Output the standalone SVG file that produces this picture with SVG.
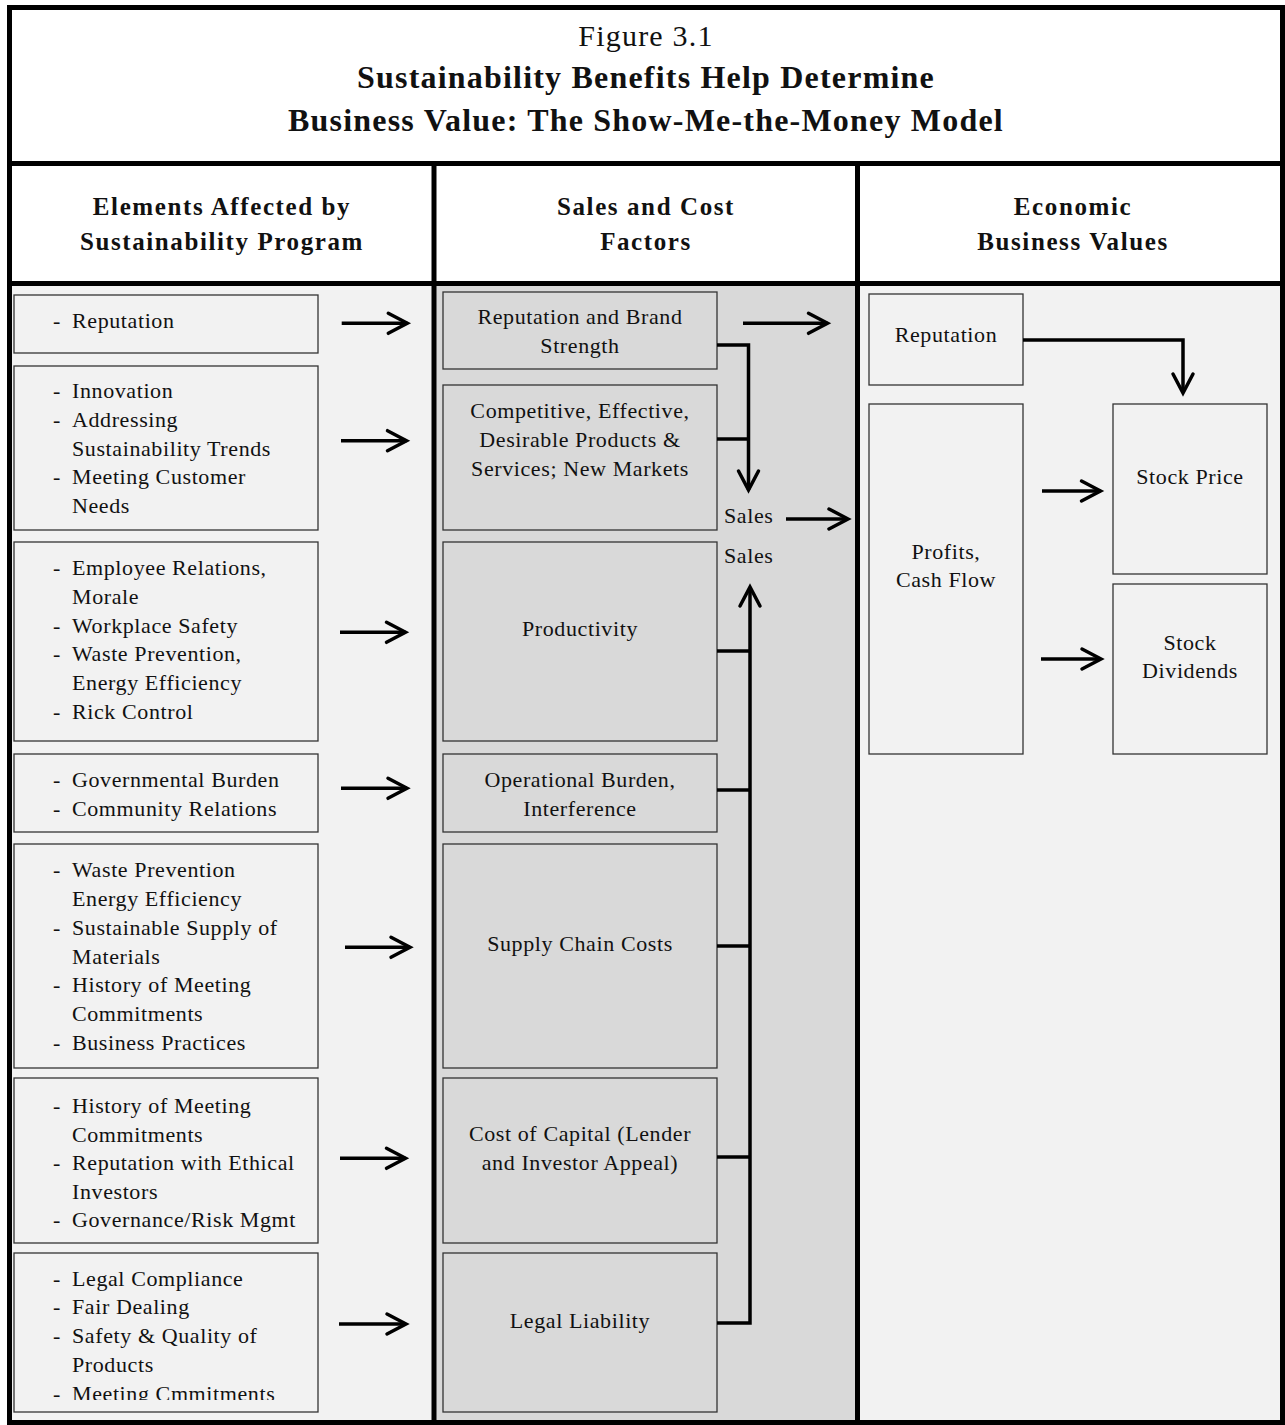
<svg xmlns="http://www.w3.org/2000/svg" width="1285" height="1425" viewBox="0 0 1285 1425">
<style>
.t{font-family:"Liberation Serif","Times New Roman",serif;font-size:22px;letter-spacing:0.6px;fill:#111}
.c{text-anchor:middle}
.h{font-family:"Liberation Serif","Times New Roman",serif;font-size:25px;font-weight:bold;letter-spacing:1.6px;fill:#111;text-anchor:middle}
.ti{font-family:"Liberation Serif","Times New Roman",serif;font-size:32px;font-weight:bold;letter-spacing:1.2px;fill:#111;text-anchor:middle}
.tr{font-family:"Liberation Serif","Times New Roman",serif;font-size:30px;letter-spacing:1.2px;fill:#111;text-anchor:middle}
.lb{fill:#f2f2f2;stroke:#333;stroke-width:1.3}
.mb{fill:#d9d9d9;stroke:#333;stroke-width:1.3}
.rb{fill:#f2f2f2;stroke:#333;stroke-width:1.3}
.frame{fill:none;stroke:#000;stroke-width:5}
.conn path{fill:none;stroke:#000;stroke-width:3.5;stroke-linejoin:miter}
</style>
<defs>
<marker id="ah" viewBox="0 0 22 22" refX="20" refY="11" markerWidth="22" markerHeight="22" markerUnits="userSpaceOnUse" orient="auto" style="overflow:visible">
<path d="M1,1 L20,11 L1,21" fill="none" stroke="#000" stroke-width="3.5" stroke-linejoin="miter" stroke-linecap="round"/>
</marker>
<clipPath id="clip7"><rect x="14" y="1253" width="304" height="147"/></clipPath>
</defs>

<g id="background">
<rect x="0" y="0" width="1285" height="1425" fill="#ffffff"/>
<rect x="12" y="286" width="420" height="1134" fill="#f2f2f2"/>
<rect x="436" y="286" width="420" height="1134" fill="#d9d9d9"/>
<rect x="860" y="286" width="421" height="1134" fill="#f2f2f2"/>
</g>

<g id="frame">
<rect class="frame" x="9.5" y="7.5" width="1273" height="1415"/>
<line class="frame" x1="7" y1="163.5" x2="1285" y2="163.5"/>
<line class="frame" x1="7" y1="283.5" x2="1285" y2="283.5"/>
<line class="frame" x1="434" y1="163" x2="434" y2="1425"/>
<line class="frame" x1="857.5" y1="163" x2="857.5" y2="1425"/>
</g>

<g id="title">
<text class="tr" x="646" y="46">Figure 3.1</text>
<text class="ti" x="646" y="88">Sustainability Benefits Help Determine</text>
<text class="ti" x="646" y="131">Business Value: The Show-Me-the-Money Model</text>
</g>

<g id="header-left">
<text class="h" x="222" y="215">Elements Affected by</text>
<text class="h" x="222" y="250">Sustainability Program</text>
</g>
<g id="header-middle">
<text class="h" x="646" y="215">Sales and Cost</text>
<text class="h" x="646" y="250">Factors</text>
</g>
<g id="header-right">
<text class="h" x="1073" y="215">Economic</text>
<text class="h" x="1073" y="250">Business Values</text>
</g>

<g id="left-1">
<rect class="lb" x="14" y="295" width="304" height="58"/>
<text class="t" x="53" y="328">-</text><text class="t" x="72" y="328">Reputation</text>
</g>
<g id="left-2">
<rect class="lb" x="14" y="366" width="304" height="164"/>
<text class="t" x="53" y="398">-</text><text class="t" x="72" y="398">Innovation</text>
<text class="t" x="53" y="427">-</text><text class="t" x="72" y="427">Addressing</text>
<text class="t" x="72" y="456">Sustainability Trends</text>
<text class="t" x="53" y="484">-</text><text class="t" x="72" y="484">Meeting Customer</text>
<text class="t" x="72" y="513">Needs</text>
</g>
<g id="left-3">
<rect class="lb" x="14" y="542" width="304" height="199"/>
<text class="t" x="53" y="575">-</text><text class="t" x="72" y="575">Employee Relations,</text>
<text class="t" x="72" y="604">Morale</text>
<text class="t" x="53" y="633">-</text><text class="t" x="72" y="633">Workplace Safety</text>
<text class="t" x="53" y="661">-</text><text class="t" x="72" y="661">Waste Prevention,</text>
<text class="t" x="72" y="690">Energy Efficiency</text>
<text class="t" x="53" y="719">-</text><text class="t" x="72" y="719">Rick Control</text>
</g>
<g id="left-4">
<rect class="lb" x="14" y="754" width="304" height="78"/>
<text class="t" x="53" y="787">-</text><text class="t" x="72" y="787">Governmental Burden</text>
<text class="t" x="53" y="816">-</text><text class="t" x="72" y="816">Community Relations</text>
</g>
<g id="left-5">
<rect class="lb" x="14" y="844" width="304" height="224"/>
<text class="t" x="53" y="877">-</text><text class="t" x="72" y="877">Waste Prevention</text>
<text class="t" x="72" y="906">Energy Efficiency</text>
<text class="t" x="53" y="935">-</text><text class="t" x="72" y="935">Sustainable Supply of</text>
<text class="t" x="72" y="964">Materials</text>
<text class="t" x="53" y="992">-</text><text class="t" x="72" y="992">History of Meeting</text>
<text class="t" x="72" y="1021">Commitments</text>
<text class="t" x="53" y="1050">-</text><text class="t" x="72" y="1050">Business Practices</text>
</g>
<g id="left-6">
<rect class="lb" x="14" y="1078" width="304" height="165"/>
<text class="t" x="53" y="1113">-</text><text class="t" x="72" y="1113">History of Meeting</text>
<text class="t" x="72" y="1142">Commitments</text>
<text class="t" x="53" y="1170">-</text><text class="t" x="72" y="1170">Reputation with Ethical</text>
<text class="t" x="72" y="1199">Investors</text>
<text class="t" x="53" y="1227">-</text><text class="t" x="72" y="1227">Governance/Risk Mgmt</text>
</g>
<g id="left-7">
<rect class="lb" x="14" y="1253" width="304" height="159"/>
<g clip-path="url(#clip7)">
<text class="t" x="53" y="1286">-</text><text class="t" x="72" y="1286">Legal Compliance</text>
<text class="t" x="53" y="1314">-</text><text class="t" x="72" y="1314">Fair Dealing</text>
<text class="t" x="53" y="1343">-</text><text class="t" x="72" y="1343">Safety &amp; Quality of</text>
<text class="t" x="72" y="1372">Products</text>
<text class="t" x="53" y="1401">-</text><text class="t" x="72" y="1401">Meeting Cmmitments</text>
</g>
</g>

<g id="mid-1">
<rect class="mb" x="443" y="292" width="274" height="77"/>
<text class="t c" x="580" y="324">Reputation and Brand</text>
<text class="t c" x="580" y="353">Strength</text>
</g>
<g id="mid-2">
<rect class="mb" x="443" y="385" width="274" height="145"/>
<text class="t c" x="580" y="418">Competitive, Effective,</text>
<text class="t c" x="580" y="447">Desirable Products &amp;</text>
<text class="t c" x="580" y="476">Services; New Markets</text>
</g>
<g id="mid-3">
<rect class="mb" x="443" y="542" width="274" height="199"/>
<text class="t c" x="580" y="636">Productivity</text>
</g>
<g id="mid-4">
<rect class="mb" x="443" y="754" width="274" height="78"/>
<text class="t c" x="580" y="787">Operational Burden,</text>
<text class="t c" x="580" y="816">Interference</text>
</g>
<g id="mid-5">
<rect class="mb" x="443" y="844" width="274" height="224"/>
<text class="t c" x="580" y="951">Supply Chain Costs</text>
</g>
<g id="mid-6">
<rect class="mb" x="443" y="1078" width="274" height="165"/>
<text class="t c" x="580" y="1141">Cost of Capital (Lender</text>
<text class="t c" x="580" y="1170">and Investor Appeal)</text>
</g>
<g id="mid-7">
<rect class="mb" x="443" y="1253" width="274" height="159"/>
<text class="t c" x="580" y="1328">Legal Liability</text>
</g>
<g id="sales-labels">
<text class="t" x="724" y="523">Sales</text>
<text class="t" x="724" y="563">Sales</text>
</g>

<g id="right-reputation">
<rect class="rb" x="869" y="294" width="154" height="91"/>
<text class="t c" x="946" y="342">Reputation</text>
</g>
<g id="right-profits">
<rect class="rb" x="869" y="404" width="154" height="350"/>
<text class="t c" x="946" y="559">Profits,</text>
<text class="t c" x="946" y="587">Cash Flow</text>
</g>
<g id="right-stockprice">
<rect class="rb" x="1113" y="404" width="154" height="170"/>
<text class="t c" x="1190" y="484">Stock Price</text>
</g>
<g id="right-dividends">
<rect class="rb" x="1113" y="584" width="154" height="170"/>
<text class="t c" x="1190" y="650">Stock</text>
<text class="t c" x="1190" y="678">Dividends</text>
</g>

<g id="connectors" class="conn">
<path d="M341.7,323.3 H407.3" marker-end="url(#ah)"/>
<path d="M341,440.7 H406.5" marker-end="url(#ah)"/>
<path d="M340,632.3 H405.5" marker-end="url(#ah)"/>
<path d="M341,788.3 H407" marker-end="url(#ah)"/>
<path d="M345,947.3 H410" marker-end="url(#ah)"/>
<path d="M340,1158.3 H405.5" marker-end="url(#ah)"/>
<path d="M339,1324 H406" marker-end="url(#ah)"/>

<path d="M743,323.3 H827.5" marker-end="url(#ah)"/>
<path d="M786,519 H848" marker-end="url(#ah)"/>

<path d="M717,345 H748.5 V490" marker-end="url(#ah)"/>
<path d="M717,439 H748.5"/>

<path d="M717,1323 H750 V587" marker-end="url(#ah)"/>
<path d="M717,651 H750"/>
<path d="M717,790 H750"/>
<path d="M717,946 H750"/>
<path d="M717,1157 H750"/>

<path d="M1023,340 H1183 V393" marker-end="url(#ah)"/>
<path d="M1042,491 H1100.5" marker-end="url(#ah)"/>
<path d="M1041,659 H1101" marker-end="url(#ah)"/>
</g>
</svg>
